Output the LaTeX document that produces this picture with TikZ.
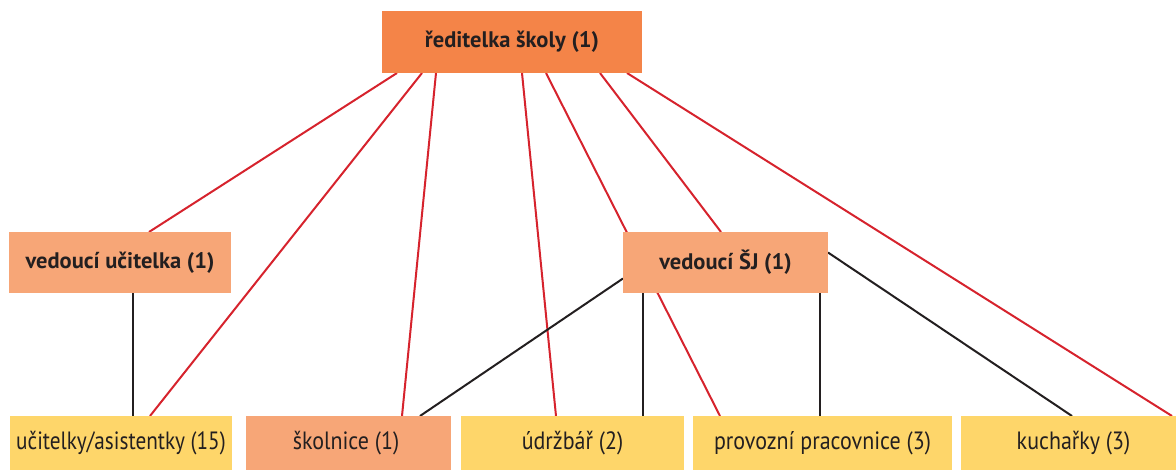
\documentclass[tikz,border=0pt]{standalone}
\usepackage{fontspec}
\setmainfont{PT Sans}
\usetikzlibrary{calc}
\pgfdeclarelayer{bg}
\pgfsetlayers{bg,main}
\definecolor{cTop}{RGB}{244,132,72}
\definecolor{cSal}{RGB}{247,166,119}
\definecolor{cYel}{RGB}{254,214,106}
\definecolor{cRed}{RGB}{214,35,45}
\definecolor{cBlk}{RGB}{35,31,32}
\tikzset{
  box/.style={inner sep=0pt, outer sep=0pt, anchor=center, text=cBlk},
  headbox/.style={box, fill=cTop, font=\fontsize{22.5}{26}\selectfont\bfseries},
  midbox/.style={box, fill=cSal, minimum height=61pt, font=\fontsize{22.5}{26}\selectfont\bfseries},
  lowbox/.style={box, minimum height=54pt, font=\fontsize{25}{30}\selectfont},
  redline/.style={draw=cRed, line width=2pt},
  blkline/.style={draw=cBlk, line width=2pt},
}
\begin{document}
\begin{tikzpicture}[x=1pt,y=-1pt]
\useasboundingbox (0,0) rectangle (1176,470);
\node[headbox, minimum width=260pt, minimum height=62pt] (top) at (512,42) {ředitelka školy (1)};
\node[midbox, minimum width=222pt] (vu) at (120,262.5) {vedoucí učitelka (1)};
\node[midbox, minimum width=205pt] (sj) at (725.5,262.5) {vedoucí ŠJ (1)};
\node[lowbox, fill=cYel, minimum width=222pt] (uc) at (121,443) {\scalebox{0.85}[1]{učitelky/asistentky (15)}};
\node[lowbox, fill=cSal, minimum width=205pt] (sk) at (348.5,443) {\hspace*{-5pt}\scalebox{0.88}[1]{školnice (1)}};
\node[lowbox, fill=cYel, minimum width=223pt] (ud) at (572.5,443) {\scalebox{0.88}[1]{údržbář (2)}};
\node[lowbox, fill=cYel, minimum width=259pt] (pp) at (822.5,443) {\scalebox{0.88}[1]{provozní pracovnice (3)}};
\node[lowbox, fill=cYel, minimum width=215pt] (ku) at (1068.5,443) {\hspace*{10pt}\scalebox{0.88}[1]{kuchařky (3)}};
\begin{pgfonlayer}{bg}
\draw[redline] ([xshift=15pt]top.south west) -- ([xshift=140pt]vu.north west);
\draw[redline] ([xshift=40pt]top.south west) -- ([xshift=140pt]uc.north west);
\draw[redline] ([xshift=54pt]top.south west) -- ([xshift=156pt]sk.north west);
\draw[redline] ([xshift=140pt]top.south west) -- ([xshift=95pt]ud.north west);
\draw[redline] ([xshift=164pt]top.south west) -- ([xshift=27pt]pp.north west);
\draw[redline] ([xshift=218pt]top.south west) -- ([xshift=98pt]sj.north west);
\draw[redline] ([xshift=245pt]top.south west) -- ([xshift=211pt]ku.north west);
\draw[blkline] ([xshift=124pt]vu.south west) -- ([xshift=123pt]uc.north west);
\draw[blkline] ([yshift=-16pt]sj.west) -- ([xshift=174pt]sk.north west);
\draw[blkline] ([xshift=20pt]sj.south west) -- ([xshift=182pt]ud.north west);
\draw[blkline] ([xshift=197pt]sj.south west) -- ([xshift=127pt]pp.north west);
\draw[blkline] ([yshift=10pt]sj.east) -- ([xshift=111pt]ku.north west);
\end{pgfonlayer}
\end{tikzpicture}
\end{document}
